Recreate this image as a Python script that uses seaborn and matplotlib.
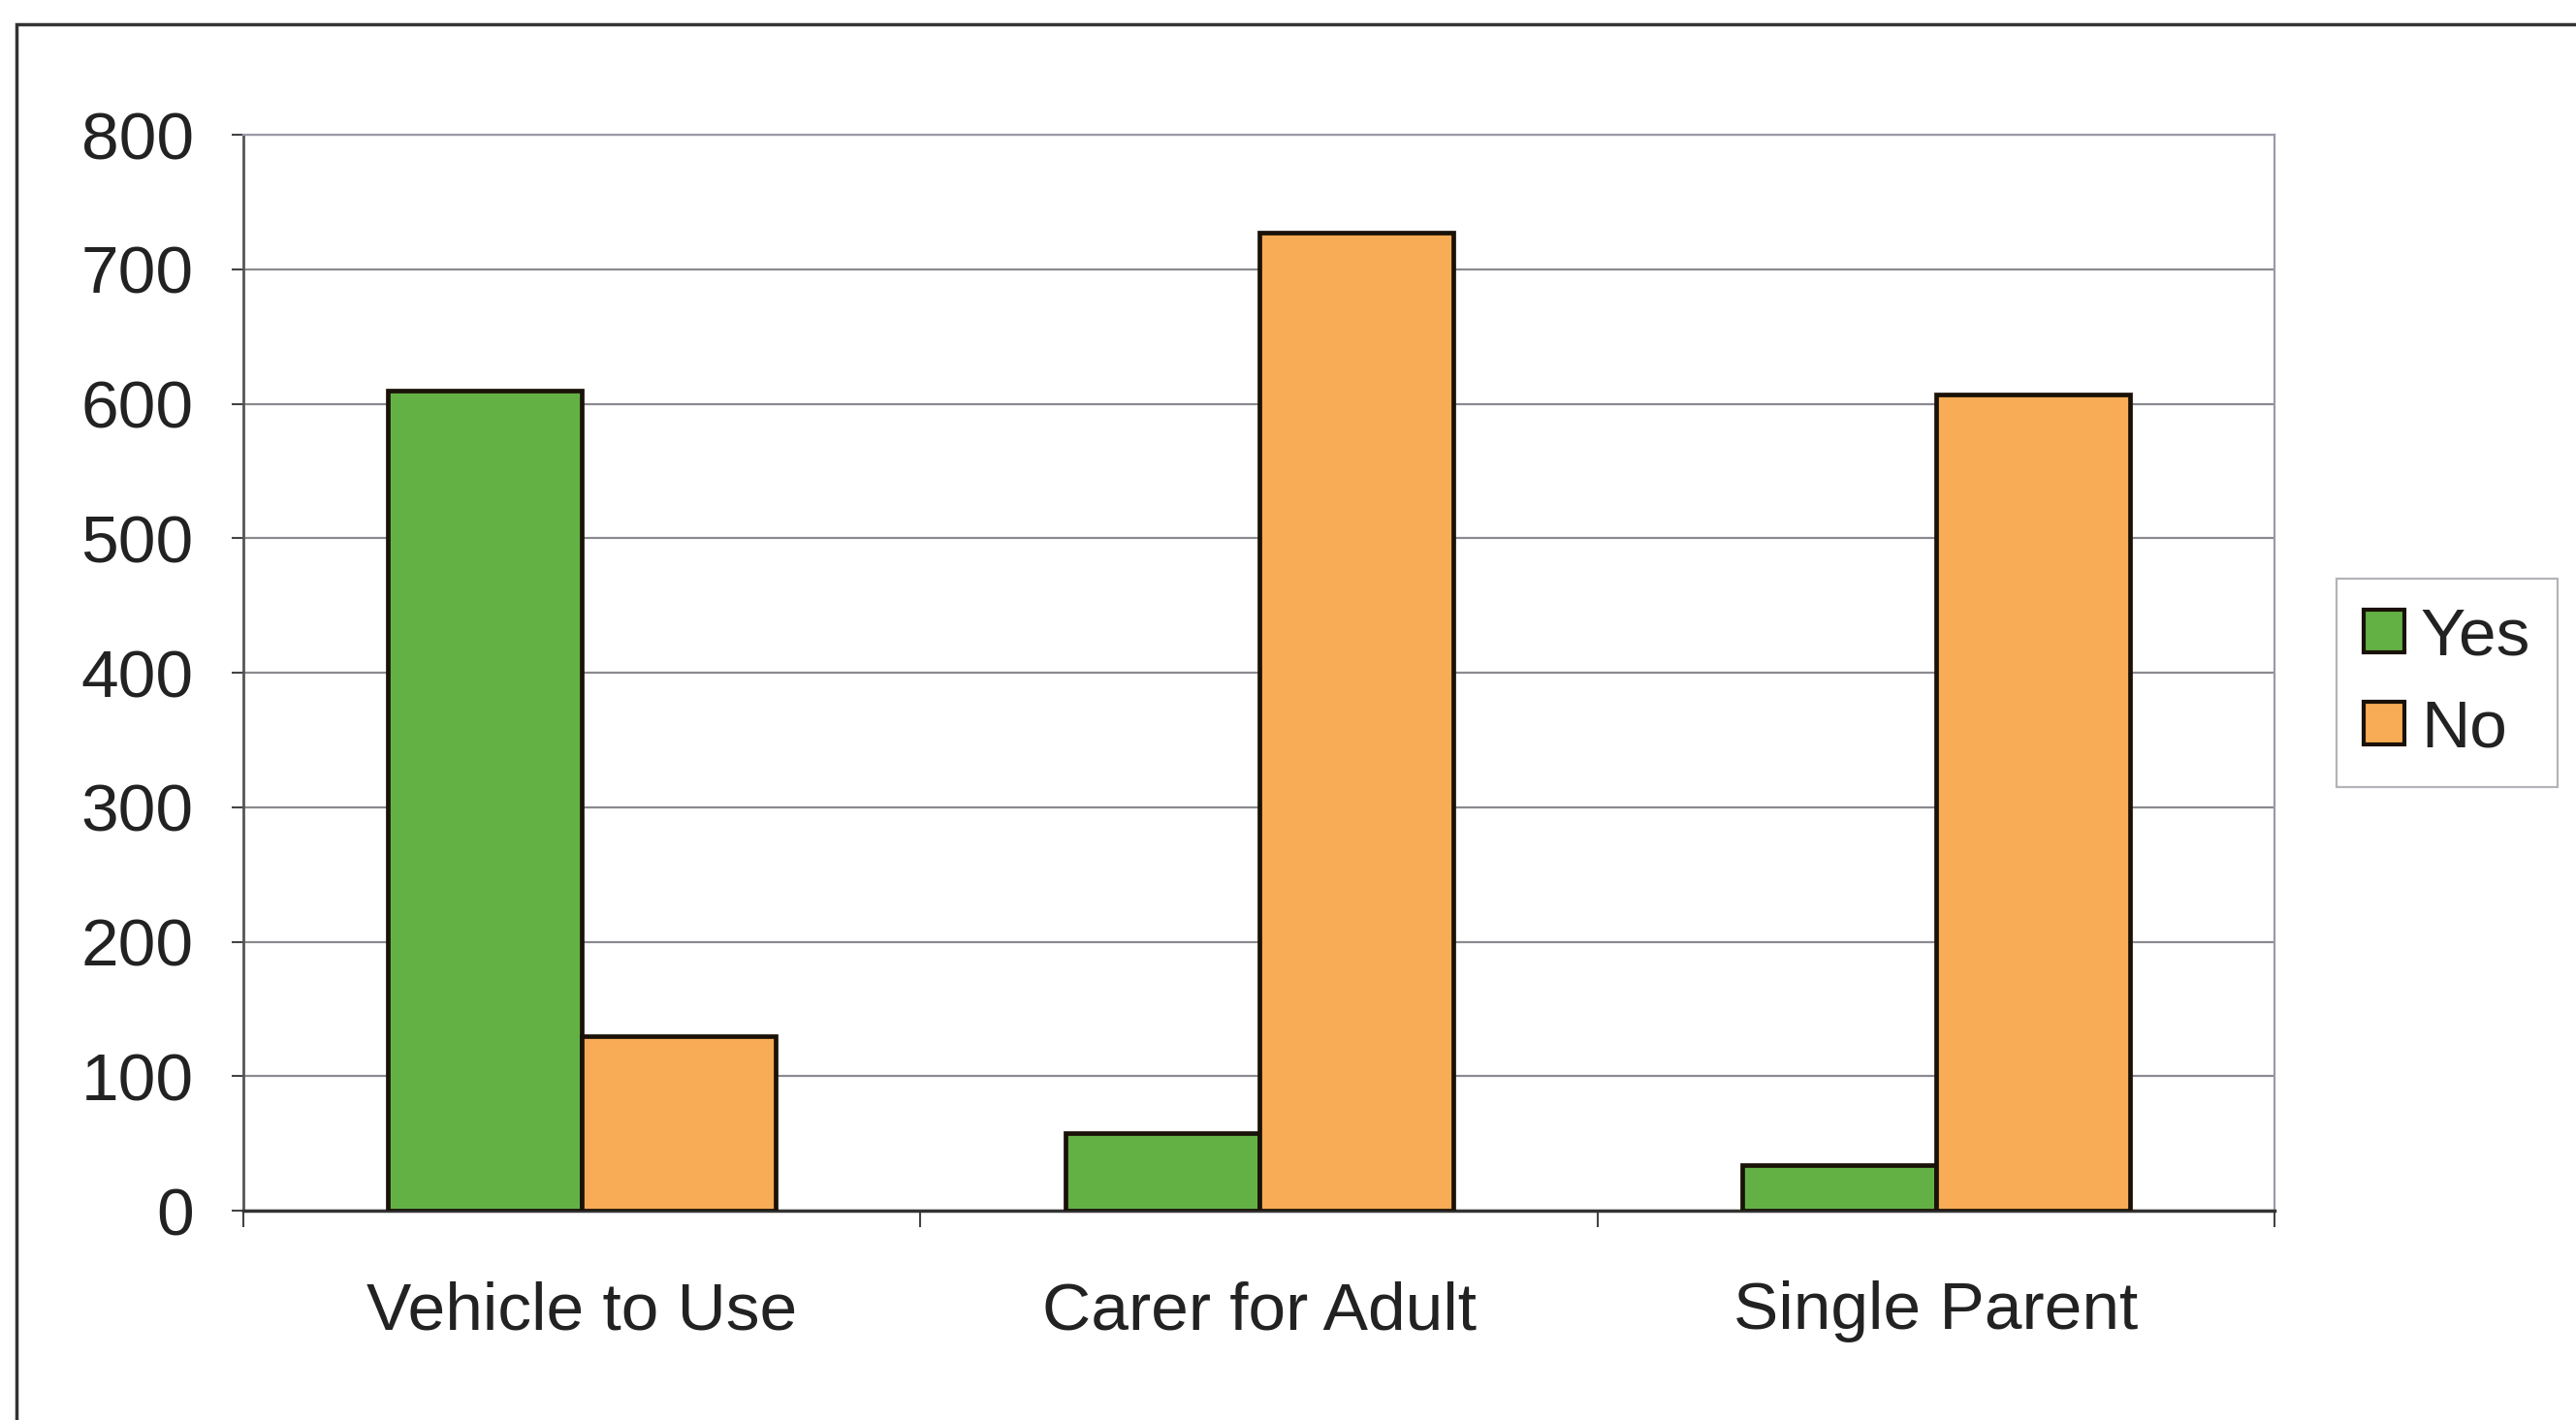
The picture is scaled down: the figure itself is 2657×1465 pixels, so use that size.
import pandas as pd
import matplotlib
matplotlib.use("Agg")
import matplotlib.pyplot as plt
import seaborn as sns
from matplotlib.patches import Rectangle

categories = ["Vehicle to Use", "Carer for Adult", "Single Parent"]
yes_counts = [610, 58, 34]
no_counts = [130, 727, 607]
groups = ["Yes", "No"]

rows = []
for cat, y, n in zip(categories, yes_counts, no_counts):
    rows.append({"category": cat, "answer": "Yes", "count": y})
    rows.append({"category": cat, "answer": "No", "count": n})
data = pd.DataFrame(rows)

sns.set_style("white")
plt.rcParams["font.family"] = ["Liberation Sans", "DejaVu Sans"]

font_size = 50
fig = plt.figure(figsize=(26.57, 14.65), dpi=100)
ax = fig.add_axes([0.0945, 0.1474, 0.7885, 0.7576])

sns.barplot(data=data, x="category", y="count", hue="answer",
            hue_order=groups, order=categories,
            palette={"Yes": "#63b145", "No": "#f8ac55"},
            width=0.573, edgecolor="#1a1208", linewidth=3.4,
            saturation=1, ax=ax, zorder=3)

ax.set_xlim(-0.5, 2.5)
ax.set_ylim(0, 800)
ax.set_yticks(range(0, 801, 100))
ax.yaxis.grid(True, color="#8a8a90", linewidth=1.6, zorder=0)
ax.xaxis.grid(False)
ax.set_xlabel("")
ax.set_ylabel("")

ax.tick_params(axis="y", which="major", labelsize=font_size, length=9,
               width=1.5, color="#444444", pad=28, left=True,
               labelcolor="#222222")
ax.tick_params(axis="x", which="major", labelsize=font_size, length=0,
               pad=52, labelcolor="#222222")
ax.set_xticks([-0.5, 0.5, 1.5, 2.5], minor=True)
ax.tick_params(axis="x", which="minor", length=12, width=1.5,
               color="#444444", bottom=True)

for side in ["top", "right"]:
    ax.spines[side].set_color("#9a9aaa")
    ax.spines[side].set_linewidth(1.6)
ax.spines["left"].set_color("#555555")
ax.spines["left"].set_linewidth(2)
ax.spines["bottom"].set_color("#333333")
ax.spines["bottom"].set_linewidth(2.5)

ax.legend_.remove()
handles, labels = ax.get_legend_handles_labels()
for h in handles:
    h.set_linewidth(3)
leg = fig.legend(handles, labels, loc="center",
                 bbox_to_anchor=(0.950, 0.519), fontsize=font_size,
                 frameon=True, fancybox=False, edgecolor="#a0a0a8",
                 handlelength=0.6, handleheight=0.6, handletextpad=0.25,
                 labelspacing=0.45, borderpad=0.4, borderaxespad=0)
leg.get_frame().set_linewidth(1.6)
for t in leg.get_texts():
    t.set_color("#222222")

# outer chart frame
fig.patches.append(Rectangle((0.0064, -0.05), 1.1, 1.033,
                             transform=fig.transFigure, fill=False,
                             edgecolor="#333333", linewidth=2.5))

fig.savefig("out.png", dpi=100, facecolor="white")
